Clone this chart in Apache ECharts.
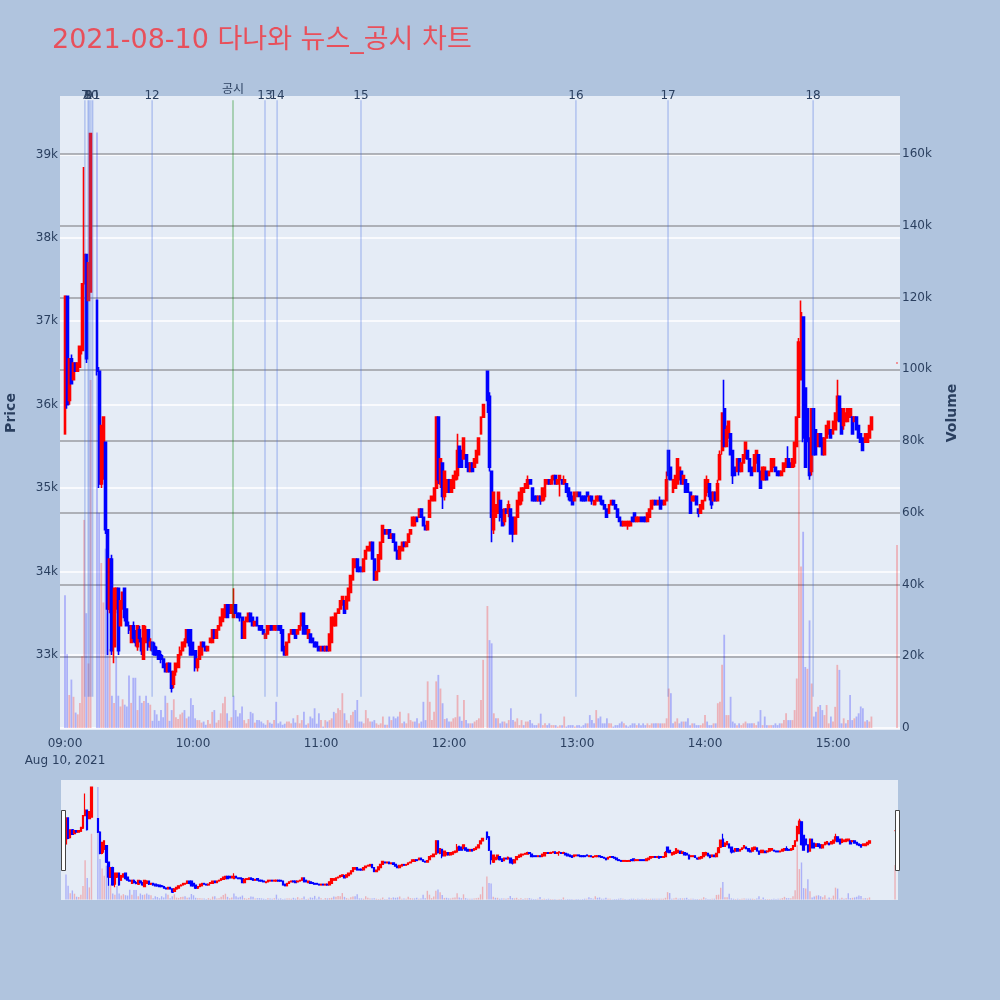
<!DOCTYPE html>
<html><head><meta charset="utf-8">
<script src="https://cdn.jsdelivr.net/npm/echarts@6/dist/echarts.min.js"></script>
<style>html,body{margin:0;padding:0;background:#b0c4de}#c{width:1000px;height:1000px}</style>
</head><body><div id="c"></div>
<script>
// ---- data: one entry per minute from 09:00 (index = minutes after 09:00), null = no trade ----
const startTime = '09:00';
const dateLabel = 'Aug 10, 2021';
const titleText = '2021-08-10 다나와 뉴스_공시 차트';

const open = [
35650,37300,36050,36550,36300,36500,36400,36450,36650,37450,
37800,37250,37350,null,null,37250,36400,35050,35300,35550,
34500,33550,34150,33100,33550,33800,33350,33550,33800,33550,
33350,33150,33350,33200,33100,33300,33200,32950,33150,33300,
33100,33150,33100,33050,33050,33000,32950,32850,32800,32900,
32800,32650,32800,32850,33000,33050,33100,33150,33300,33300,
33150,33050,32850,32950,33000,33150,33100,33050,33150,33150,
33300,33200,33300,33350,33400,33450,33600,33600,33500,33450,
33600,33500,33500,33450,33200,33400,33400,33500,33450,33350,
33450,33350,33350,33300,33200,33250,33300,33350,33300,33300,
33350,33350,33300,33100,33000,33150,33250,33300,33300,33250,
33300,33350,33500,33350,33200,33250,33200,33150,33150,33100,
33050,33100,33050,33100,33050,33150,33350,33350,33500,33550,
33600,33650,33550,33650,33750,33900,34050,34150,34050,34050,
34000,34150,34250,34250,34350,34150,33900,34000,34150,34350,
34500,34450,34500,34400,34450,34350,34250,34150,34250,34350,
34300,34350,34450,34550,34550,34650,34650,34750,34650,34550,
34500,34650,34850,34850,35000,35850,35050,35300,34900,34950,
35100,34950,35000,35100,35150,35500,35450,35350,35400,35300,
35200,35300,35250,35300,35400,35650,35850,null,36400,36100,
35200,34500,34650,34700,34850,34700,34600,34750,34700,34750,
34650,34450,34650,34800,34850,34950,35000,35000,35100,35000,
34900,34900,34850,34900,34850,34900,35050,35100,35050,35100,
35150,35050,35100,35100,35050,35050,35000,34950,34900,34850,
34900,34950,34900,34900,34900,34950,34850,34900,34800,34850,
34850,34900,34850,34800,34750,34700,34800,34850,34800,34750,
34650,34600,34550,34550,34550,34550,34650,34700,34600,34600,
34650,34650,34650,34600,34650,34750,34800,34850,34800,34850,
34850,34800,34850,35450,35250,34950,35000,35050,35100,35200,
35050,35100,35050,34950,34850,34850,34900,34750,34700,34750,
34850,34950,35050,34950,34850,34950,34850,35100,35450,35950,
35500,35600,35650,35450,35250,35200,35350,35200,35300,35400,
35450,35350,35250,35200,35300,35400,35200,35100,35100,35200,
35150,35200,35250,35250,35200,35200,35150,35200,35250,35350,
35300,35250,35300,35500,35850,36300,37050,36200,35950,35600,
35200,35950,35700,35500,35650,35600,35400,35600,35650,35700,
35650,35700,35850,36100,35950,35750,35800,35800,35850,35850,
35800,35850,35750,35650,35600,35550,35550,35600,35700,null,
null,null,null,null,null,null,null,null,null,null,
36500];

const close = [
37300,36000,36550,36250,36500,36400,36500,36700,37450,37800,
36550,37700,39250,null,null,36400,35050,35750,35850,34500,
33550,34150,33050,33800,33800,33050,33650,33750,33450,33350,
33300,33350,33200,33150,33350,33200,33050,33350,33300,33100,
33150,33050,33000,33000,32950,32950,32850,32800,32900,32800,
32600,32800,32900,33000,33050,33150,33150,33300,33150,33000,
33000,32850,32950,33100,33150,33100,33050,33100,33200,33300,
33200,33300,33350,33450,33550,33600,33450,33500,33600,33600,
33500,33450,33450,33200,33400,33450,33500,33400,33350,33400,
33350,33300,33300,33250,33250,33350,33350,33300,33350,33350,
33300,33300,33050,33000,33150,33250,33300,33250,33200,33300,
33350,33500,33250,33250,33300,33150,33150,33100,33100,33050,
33100,33050,33100,33050,33250,33450,33450,33500,33550,33650,
33700,33500,33700,33800,33950,34150,34150,34000,34000,34000,
34150,34250,34300,34350,34150,33900,34000,34200,34350,34550,
34450,34500,34400,34450,34350,34250,34150,34300,34350,34300,
34350,34450,34500,34650,34650,34600,34750,34650,34550,34500,
34600,34850,34900,35000,35850,35100,35350,34900,35200,35100,
34950,35100,35150,35200,35450,35250,35250,35600,35250,35200,
35300,35200,35350,35450,35600,35850,36000,null,36050,35250,
34650,34950,34800,34950,34650,34550,34750,34700,34800,34450,
34450,34650,34850,34950,35000,35000,35050,35100,35050,34850,
34850,34850,34900,34850,35000,35100,35100,35050,35100,35150,
35050,35100,35150,35050,35100,34950,34900,34850,34800,34950,
34950,34900,34850,34850,34850,34900,34900,34850,34850,34900,
34900,34850,34800,34750,34650,34800,34850,34800,34750,34650,
34600,34550,34600,34600,34600,34600,34600,34600,34650,34650,
34600,34600,34600,34700,34750,34850,34850,34800,34850,34750,
34800,34850,35100,35150,35100,35100,35150,35350,35250,35050,
35150,34950,34950,34700,34900,34900,34800,34700,34800,34850,
35100,35100,34900,34800,34950,34850,35050,35400,35900,35500,
35700,35800,35400,35150,35150,35350,35200,35300,35400,35550,
35350,35200,35150,35400,35450,35200,35000,35250,35250,35100,
35200,35350,35350,35200,35150,35150,35200,35300,35350,35250,
35250,35350,35550,35850,36750,37100,35600,35250,35600,35150,
35950,35400,35400,35650,35500,35400,35600,35750,35800,35600,
35800,35900,36100,35800,35650,35950,35900,35950,35950,35650,
35850,35700,35600,35550,35450,35650,35650,35750,35850,null,
null,null,null,null,null,null,null,null,null,null,
36500];

const low = [
35650,35950,36000,36250,36300,36400,36400,36450,36600,37450,
36500,37250,37350,null,null,36350,35000,35000,35100,34450,
33000,33500,33000,32900,33500,33000,33350,33550,33400,33350,
33250,33150,33150,33100,33050,33150,33000,32950,33150,33050,
33050,33000,33000,33000,32950,32900,32850,32800,32800,32800,
32550,32600,32750,32850,32950,33050,33100,33150,33100,33000,
33000,32800,32800,32950,33000,33100,33050,33050,33150,33150,
33200,33200,33300,33350,33400,33450,33450,33500,33500,33450,
33500,33450,33400,33200,33200,33400,33400,33400,33350,33350,
33350,33300,33300,33250,33200,33250,33300,33300,33300,33300,
33300,33250,33050,33000,33000,33150,33250,33250,33200,33250,
33300,33350,33250,33250,33200,33150,33150,33100,33100,33050,
33050,33050,33050,33050,33050,33150,33350,33350,33500,33550,
33600,33500,33550,33650,33750,33900,34050,34000,34000,34000,
34000,34150,34250,34250,34150,33900,33900,34000,34150,34350,
34450,34450,34400,34400,34350,34250,34150,34150,34250,34300,
34300,34350,34450,34550,34550,34600,34650,34650,34550,34500,
34500,34650,34850,34850,35000,35050,35000,34750,34850,34950,
34950,34950,35000,35100,35100,35250,35250,35350,35250,35200,
35200,35200,35250,35300,35400,35650,35850,null,35900,35200,
34350,34450,34650,34700,34600,34550,34550,34700,34650,34450,
34350,34450,34650,34800,34800,34950,35000,35000,35050,34850,
34850,34850,34850,34800,34850,34850,35050,35050,35050,35100,
35050,35050,34900,35050,35050,34950,34850,34850,34800,34850,
34900,34900,34850,34850,34850,34900,34850,34800,34800,34800,
34850,34800,34800,34750,34650,34700,34800,34800,34750,34650,
34600,34550,34550,34550,34500,34550,34600,34600,34600,34600,
34600,34600,34600,34600,34650,34750,34800,34800,34800,34750,
34800,34800,34850,35100,35100,34950,35000,35050,35100,35050,
35050,34950,34950,34700,34850,34850,34800,34650,34700,34750,
34850,34900,34850,34750,34850,34850,34850,35100,35400,35500,
35500,35600,35400,35050,35150,35200,35150,35200,35300,35350,
35350,35200,35150,35200,35300,35200,35000,35100,35100,35100,
35150,35200,35250,35200,35150,35150,35150,35200,35250,35250,
35250,35250,35250,35500,35850,36300,35550,35250,35550,35100,
35150,35400,35400,35500,35500,35400,35400,35600,35650,35600,
35650,35700,35800,35800,35650,35700,35800,35800,35850,35650,
35800,35700,35600,35550,35450,35550,35550,35600,35700,null,
null,null,null,null,null,null,null,null,null,null,
36500];

const high = [
37300,37300,36550,36600,36500,36500,36500,36700,37450,38850,
37800,37700,39250,null,null,37250,36450,35750,35850,35550,
34500,34150,34200,33800,33800,33800,33650,33750,33800,33550,
33400,33350,33400,33300,33350,33350,33200,33350,33350,33300,
33200,33150,33150,33100,33050,33050,33000,32900,32900,32900,
32800,32800,32900,33000,33100,33150,33200,33300,33300,33300,
33150,33050,32950,33100,33150,33150,33100,33100,33200,33300,
33300,33300,33350,33450,33550,33600,33600,33600,33600,33800,
33600,33500,33500,33450,33400,33450,33500,33500,33450,33400,
33450,33350,33350,33300,33250,33350,33350,33350,33350,33350,
33350,33350,33300,33100,33150,33250,33300,33300,33300,33300,
33350,33500,33500,33350,33300,33250,33200,33150,33150,33100,
33100,33100,33100,33100,33250,33450,33450,33500,33550,33650,
33700,33650,33700,33800,33950,34150,34150,34150,34050,34050,
34150,34250,34300,34350,34350,34150,34000,34200,34350,34550,
34500,34500,34500,34450,34450,34350,34250,34300,34350,34350,
34350,34450,34500,34650,34650,34650,34750,34750,34650,34550,
34600,34850,34900,35000,35850,35850,35350,35300,35200,35100,
35100,35100,35150,35200,35650,35500,35450,35600,35400,35300,
35300,35300,35350,35450,35600,35850,36000,null,36400,36150,
35200,34950,34800,34950,34850,34750,34750,34750,34850,34750,
34650,34650,34850,34950,35000,35000,35050,35150,35100,35000,
34900,34900,34900,34900,35000,35100,35100,35100,35150,35150,
35150,35100,35150,35100,35150,35050,35000,34950,34900,34950,
34950,34950,34900,34900,34900,34950,34900,34900,34850,34900,
34900,34900,34850,34800,34750,34800,34850,34850,34800,34750,
34650,34600,34600,34600,34600,34600,34650,34700,34650,34650,
34650,34650,34650,34700,34750,34850,34850,34850,34850,34900,
34850,34850,35200,35450,35250,35100,35150,35350,35250,35200,
35150,35100,35050,34950,34900,34900,34900,34750,34800,34850,
35100,35150,35050,34950,34950,34950,35100,35450,35900,36300,
35750,35800,35650,35450,35250,35350,35350,35300,35400,35550,
35450,35350,35250,35400,35450,35400,35200,35250,35250,35200,
35200,35350,35350,35250,35200,35200,35200,35300,35350,35500,
35300,35350,35550,35850,36800,37250,37050,36200,35950,35600,
35950,35950,35700,35650,35650,35600,35600,35750,35800,35700,
35800,35900,36300,36100,35950,35950,35900,35950,35950,35850,
35850,35850,35750,35650,35600,35650,35650,35750,35850,null,
null,null,null,null,null,null,null,null,null,null,
36500];

const volume = [
37000,20600,9200,13500,8700,4300,3800,7000,20000,58000,
32000,18000,97000,null,null,166000,60000,46000,35000,50000,
32000,22000,9000,7000,20000,9000,6000,8000,6500,6000,
14600,7000,14000,14000,5000,9000,7000,7500,9000,7000,
6500,2000,5000,3800,2000,5000,3000,9000,7000,2000,
5000,8000,3000,2500,3800,4300,5000,2700,3200,8300,
6400,2700,2200,2200,1500,1800,900,2200,1200,4500,
5000,1500,2200,4100,6900,8700,4100,2000,3000,9000,
5000,3200,4100,6000,2200,1300,2500,4500,4100,1500,
2200,2200,1800,1300,900,2200,1500,1200,2200,7300,
1300,1800,900,1200,1800,1800,1300,2700,1500,3600,
1300,2200,4500,900,1300,3200,2700,5500,1200,4100,
2200,400,2200,1800,2200,2700,4500,4100,5500,5000,
9700,4100,2200,1300,3600,4500,5000,7800,1800,1800,
1300,5000,2700,1800,1800,2200,1300,900,1300,3200,
900,900,3200,2200,3200,2700,3200,4500,1300,1800,
1300,4100,2200,1800,1800,2700,1300,1800,7300,2200,
13000,7300,2200,4500,13000,14800,11000,6900,2500,2700,
1800,1800,2700,3000,9200,3200,2000,7800,2200,1300,
1300,1300,1800,2200,2700,7800,19000,null,34000,24500,
23600,4100,2700,2700,1300,1800,1800,1300,2200,5500,
2200,1800,2700,800,2200,800,1800,1800,2200,1300,
800,800,1300,4000,800,1300,800,1300,800,800,
800,400,800,800,3200,400,800,800,800,400,
800,800,400,800,1300,1300,3600,2200,1300,5000,
2700,3200,1300,1300,2700,1300,1300,400,800,800,
1300,1800,1300,800,400,800,1300,1300,800,1300,
800,1300,800,1300,800,1300,1300,1300,1300,1300,
1300,1300,2700,11000,9700,1300,1800,2700,1300,1800,
1800,1800,2700,800,1300,1300,800,800,800,1300,
3600,1800,800,800,1300,1300,6900,7300,17600,26000,
3600,3600,8700,1800,1300,800,1300,800,1300,1800,
1300,1300,1300,1300,800,1800,5000,800,3200,800,
800,800,800,1300,800,1300,1300,2200,4100,2200,
2200,2200,5000,13800,80000,45000,54700,17000,16500,30000,
12400,3200,4500,5900,6400,5000,3600,6400,1300,3200,
1800,5900,17600,16200,1300,2700,1300,2200,9200,2200,
2700,3200,4100,6000,5500,1800,2200,1800,3200,null,
null,null,null,null,null,null,null,null,null,null,
51000];

// news / disclosure markers
const newsLabel = ['7','8','9','10','11','12','공시','13','14','15','16','17','18'];
const newsTime  = ['09:09:20','09:10:50','09:11:20','09:12:10','09:13:00','09:40:50','10:18:45','10:33:45','10:39:25','11:18:45','12:59:30','13:42:40','14:50:40'];
const newsKind  = ['news','news','news','news','news','news','disclosure','news','news','news','news','news','news'];
const newsSpan  = [32500, 39650];

// axis ranges / ticks
const xRange = [-2.34, 391.4];
const xTickMinutes = [0, 60, 120, 180, 240, 300, 360];
const priceRange = [32100, 39700];
const volumeRange = [-557, 176170];

// ---- build ----
const toMin = s => { const p = s.split(':').map(Number); const b = startTime.split(':').map(Number); return (p[0]-b[0])*60 + (p[1]-b[1]) + (p[2]||0)/60; };
const fmtMin = m => { const b = startTime.split(':').map(Number); const t = b[0]*60 + b[1] + m; const h = Math.floor(t/60), mm = t%60; return String(h).padStart(2,'0') + ':' + String(mm).padStart(2,'0'); };

const UP = '#ff0000', DOWN = '#0000ff';
const VUP = 'rgba(255,0,0,0.25)', VDOWN = 'rgba(0,0,255,0.25)';
const candleData = [], volData = [];
let prevClose = null;
for (let i = 0; i < open.length; i++) {
  if (open[i] == null) continue;
  candleData.push([i, open[i], close[i], low[i], high[i]]);
  const up = prevClose != null && close[i] > prevClose;
  volData.push({ value: [i, volume[i]], itemStyle: { color: up ? VUP : VDOWN } });
  prevClose = close[i];
}
const newsData = newsTime.map(t => [toMin(t), newsSpan[0], newsSpan[1]]);

const FONT = '"DejaVu Sans", "Noto Sans CJK KR", sans-serif';
const AXC = '#2a3f5f';
const GRAY = '#9a9ca2';

const chart = echarts.init(document.getElementById('c'));
chart.setOption({
  animation: false,
  backgroundColor: '#b0c4de',
  textStyle: { fontFamily: FONT },
  title: { text: titleText, left: 47, top: 22, textStyle: { fontSize: 27, fontWeight: 'normal', color: '#e8505b', fontFamily: FONT } },
  grid: [
    { left: 60, top: 96, width: 840, height: 634, show: true, backgroundColor: '#e5ecf6', borderWidth: 0, containLabel: false, outerBoundsMode: 'none' },
    { left: 61, top: 780, width: 837, height: 120, show: true, backgroundColor: '#e5ecf6', borderWidth: 0, containLabel: false, outerBoundsMode: 'none' }
  ],
  xAxis: [
    { type: 'value', gridIndex: 0, min: xRange[0], max: xRange[1],
      axisLine: { show: false, onZero: false }, axisTick: { show: false }, splitLine: { show: false },
      axisLabel: { customValues: xTickMinutes, color: AXC, fontSize: 12, margin: 5, lineHeight: 17, fontFamily: FONT,
        formatter: v => { const m = Math.round(v); return m === 0 ? fmtMin(m) + '\n' + dateLabel : fmtMin(m); } } },
    { type: 'value', gridIndex: 1, min: xRange[0], max: xRange[1], show: false, splitLine: { show: false }, axisLine: { onZero: false } }
  ],
  yAxis: [
    { type: 'value', gridIndex: 0, position: 'left', min: priceRange[0], max: priceRange[1], splitNumber: 7,
      name: 'Price', nameLocation: 'middle', nameGap: 42, nameTextStyle: { color: AXC, fontSize: 14, fontWeight: 'bold', fontFamily: FONT },
      axisLine: { show: false, onZero: false }, axisTick: { show: false },
      axisLabel: { color: AXC, fontSize: 12, margin: 2, fontFamily: FONT, showMinLabel: false, showMaxLabel: false, formatter: v => (v/1000) + 'k' },
      splitLine: { show: true, showMinLine: false, showMaxLine: false, lineStyle: { color: '#ffffff', width: 1.5 } } },
    { type: 'value', gridIndex: 0, position: 'right', min: volumeRange[0], max: volumeRange[1], splitNumber: 8,
      name: 'Volume', nameLocation: 'middle', nameGap: 45, nameTextStyle: { color: AXC, fontSize: 14, fontWeight: 'bold', fontFamily: FONT },
      axisLine: { show: false, onZero: false }, axisTick: { show: false },
      axisLabel: { color: AXC, fontSize: 12, margin: 2, fontFamily: FONT, showMinLabel: false, showMaxLabel: false, formatter: v => v === 0 ? '0' : (v/1000) + 'k' },
      splitLine: { show: true, showMinLine: false, showMaxLine: false, lineStyle: { color: ['#ffffff', GRAY, GRAY, GRAY, GRAY, GRAY, GRAY, GRAY, GRAY], width: 1.5 } } },
    { type: 'value', gridIndex: 1, min: priceRange[0], max: priceRange[1], show: false, splitLine: { show: false }, axisLine: { onZero: false } },
    { type: 'value', gridIndex: 1, min: volumeRange[0], max: volumeRange[1], show: false, splitLine: { show: false }, axisLine: { onZero: false } }
  ],
  series: [
    { type: 'bar', xAxisIndex: 0, yAxisIndex: 1, data: volData, barWidth: 1.8, z: 1, silent: true },
    { type: 'candlestick', xAxisIndex: 0, yAxisIndex: 0, data: candleData, encode: { x: 0, y: [1, 2, 3, 4] },
      barWidth: 2.4, z: 2, silent: true,
      itemStyle: { color: UP, color0: DOWN, borderColor: UP, borderColor0: DOWN, borderWidth: 1.6 } },
    { type: 'custom', xAxisIndex: 0, yAxisIndex: 0, data: newsData, encode: { x: 0, y: [1, 2] }, z: 5, silent: true, clip: false,
      renderItem: (params, api) => {
        const i = params.dataIndex;
        const b = api.coord([api.value(0), api.value(1)]);
        const t = api.coord([api.value(0), api.value(2)]);
        const disc = newsKind[i] === 'disclosure';
        return { type: 'group', children: [
          { type: 'line', shape: { x1: b[0], y1: b[1], x2: t[0], y2: t[1] },
            style: { stroke: disc ? 'rgba(0,128,0,0.45)' : 'rgba(65,105,225,0.4)', lineWidth: 1.2 } },
          { type: 'text', x: t[0], y: t[1] - (disc ? 10 : 4),
            style: { text: newsLabel[i], fill: AXC, font: '12px ' + FONT, align: 'center', verticalAlign: 'middle' } }
        ] };
      } },
    { type: 'bar', xAxisIndex: 1, yAxisIndex: 3, data: volData, barWidth: 1.4, z: 1, silent: true },
    { type: 'candlestick', xAxisIndex: 1, yAxisIndex: 2, data: candleData, encode: { x: 0, y: [1, 2, 3, 4] },
      barWidth: 2, z: 2, silent: true,
      itemStyle: { color: UP, color0: DOWN, borderColor: UP, borderColor0: DOWN, borderWidth: 1.2 } }
  ],
  graphic: [
    { type: 'rect', left: 61, top: 810, shape: { width: 4, height: 60 }, style: { fill: '#ffffff', stroke: '#444', lineWidth: 1 }, z: 10 },
    { type: 'rect', left: 895, top: 810, shape: { width: 4, height: 60 }, style: { fill: '#ffffff', stroke: '#444', lineWidth: 1 }, z: 10 }
  ]
});
</script>
</body></html>
